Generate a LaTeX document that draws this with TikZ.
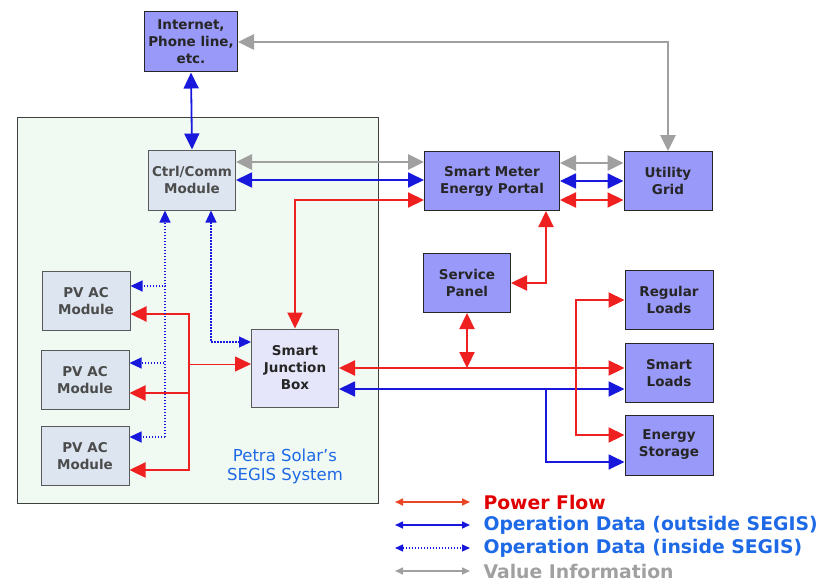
\documentclass[tikz,border=0pt]{standalone}
\usepackage{fontspec}
\setmainfont{DejaVu Sans}
\usetikzlibrary{arrows.meta,positioning,calc}
\definecolor{portalblue}{RGB}{153,153,250}
\definecolor{modfill}{RGB}{221,230,240}
\definecolor{jbfill}{RGB}{230,230,250}
\definecolor{segisfill}{RGB}{241,250,242}
\definecolor{pwrred}{RGB}{238,32,32}
\definecolor{datblue}{RGB}{24,24,220}
\definecolor{valgray}{RGB}{160,160,160}
\definecolor{txtblue}{RGB}{30,105,230}
\definecolor{txtred}{RGB}{225,0,0}
\definecolor{legred}{RGB}{232,70,36}
\tikzset{
  obox/.style={draw=black!85, fill=portalblue, line width=1pt, minimum width=88pt,
               minimum height=59pt, align=center, text=black!85,
               font=\fontsize{13.5}{17}\selectfont\bfseries},
  mbox/.style={draw=black!65, fill=modfill, line width=1pt, minimum width=88pt,
               minimum height=59pt, align=center, text=black!70,
               font=\fontsize{13.5}{17}\selectfont\bfseries},
  jbox/.style={draw=black!65, fill=jbfill, line width=1pt, minimum width=87pt,
               minimum height=78pt, align=center, text=black!85,
               font=\fontsize{13.5}{17}\selectfont\bfseries},
  pflow/.style={{Triangle[length=16pt,width=15pt]}-{Triangle[length=16pt,width=15pt]},
                line width=2.2pt, draw=pwrred},
  pflowr/.style={-{Triangle[length=16pt,width=15pt]}, line width=2.2pt, draw=pwrred},
  dflow/.style={{Triangle[length=16pt,width=15pt]}-{Triangle[length=16pt,width=15pt]},
                line width=1.8pt, draw=datblue},
  dflowr/.style={-{Triangle[length=16pt,width=15pt]}, line width=1.8pt, draw=datblue},
  iflow/.style={-{Triangle[length=12pt,width=11pt]}, line width=1.2pt, draw=datblue,
                dash pattern=on 1.5pt off 1.5pt},
  iflowb/.style={{Triangle[length=12pt,width=11pt]}-{Triangle[length=12pt,width=11pt]},
                line width=1.2pt, draw=datblue, dash pattern=on 1.5pt off 1.5pt},
  vflow/.style={{Triangle[length=16pt,width=15pt]}-{Triangle[length=16pt,width=15pt]},
                line width=2.8pt, draw=valgray},
  legtext/.style={anchor=west, font=\fontsize{18.8}{21}\selectfont\bfseries},
}
\begin{document}
\begin{tikzpicture}[x=1pt, y=-1pt]
  \useasboundingbox (0,0) rectangle (829,583);
  % SEGIS enclosure
  \node[draw=black!75, fill=segisfill, line width=1pt, minimum width=361pt,
        minimum height=385pt] (segis) at (197.5,310.5) {};
  \node[text=txtblue, align=center, font=\fontsize{16.5}{19}\selectfont] (segislbl) at (285,466)
        {Petra Solar's\\SEGIS System};
  % boxes
  \node[obox, minimum width=93pt, minimum height=60pt] (inet) at (191,42) {Internet,\\Phone line,\\etc.};
  \node[mbox, minimum width=87pt, minimum height=60pt] (ctrl) at (192,180) {Ctrl/Comm\\Module};
  \node[obox, minimum width=135pt] (sm) at (492,181) {Smart Meter\\Energy Portal};
  \node[obox] (ug) at (668,181) {Utility\\Grid};
  \node[obox, minimum width=87pt] (sp) at (467,283) {Service\\Panel};
  \node[obox] (rl) at (669,300) {Regular\\Loads};
  \node[obox] (sl) at (669,373) {Smart\\Loads};
  \node[obox, minimum height=60pt] (es) at (669,445) {Energy\\Storage};
  \node[mbox] (pv1) at (86,301) {PV AC\\Module};
  \node[mbox] (pv2) at (85,380) {PV AC\\Module};
  \node[mbox] (pv3) at (85,456) {PV AC\\Module};
  \node[jbox] (sjb) at (295,368) {Smart\\Junction\\Box};
  % taps
  \coordinate (redtap) at (576,368);
  \coordinate (bluetap) at (546,389);
  \coordinate (pvbus) at (189,368);
  \coordinate (pvdata) at (165,437);
  % value information
  \draw[vflow] (inet.east) -| (ug.north);
  \draw[vflow] ([yshift=18pt]ctrl.east) -- ([yshift=18pt]ctrl.east -| sm.west);
  \draw[vflow] ([yshift=18pt]sm.east) -- ([yshift=18pt]sm.east -| ug.west);
  % operation data outside
  \draw[dflow] (inet.south) -- (ctrl.north);
  \draw[dflow] (ctrl.east) -- (ctrl.east -| sm.west);
  \draw[dflow] (sm.east) -- (sm.east -| ug.west);
  \draw[dflow] ([yshift=-21pt]sjb.east) -- ([yshift=-21pt]sjb.east -| sl.west);
  \draw[dflowr] (bluetap) |- ([yshift=-17pt]es.west);
  % power flow
  \draw[pflow] ([yshift=-19pt]sm.east) -- ([yshift=-19pt]sm.east -| ug.west);
  \draw[pflow] ([yshift=-19pt]sm.west) -| (sjb.north);
  \draw[pflow] (sp.east) -| ([xshift=54pt]sm.south);
  \draw[pflow] (sp.south) -- (sp.south |- sjb.east);
  \draw[pflow] (sjb.east) -- (sjb.east -| sl.west);
  \draw[pwrred, line width=2.2pt] ([yshift=68pt]redtap) -- ([yshift=-67pt]redtap);
  \draw[pflowr] (redtap) |- (rl.west);
  \draw[pflowr] (redtap) |- ([yshift=10pt]es.west);
  \draw[pflowr, line width=0.8pt] ([yshift=4pt]pvbus) -- ([yshift=4pt]sjb.west);
  \draw[pwrred, line width=2.2pt] ([yshift=54pt]pvbus) -- ([yshift=-102pt]pvbus);
  \draw[pflowr] (pvbus) |- ([yshift=-13pt]pv1.east);
  \draw[pflowr] (pvbus) |- ([yshift=-13pt]pv2.east);
  \draw[pflowr] (pvbus) |- ([yshift=-14pt]pv3.east);
  % operation data inside
  \draw[iflow] (pvdata) -- ([xshift=-27pt]ctrl.south);
  \draw[iflow] (pvdata) |- ([yshift=15pt]pv1.east);
  \draw[iflow] (pvdata) |- ([yshift=17pt]pv2.east);
  \draw[iflow] (pvdata) -- ([yshift=19pt]pv3.east);
  \draw[iflowb] ([xshift=19pt]ctrl.south) |- ([yshift=26pt]sjb.west);
  % legend
  \coordinate (l1a) at (395,502); \coordinate (l1b) at (470,502);
  \coordinate (l2a) at (395,525); \coordinate (l2b) at (470,525);
  \coordinate (l3a) at (395,548); \coordinate (l3b) at (470,548);
  \coordinate (l4a) at (395,571); \coordinate (l4b) at (470,571);
  \draw[{Triangle[length=8pt,width=7pt]}-{Triangle[length=8pt,width=7pt]}, line width=1.6pt, draw=legred] (l1a) -- (l1b);
  \draw[{Triangle[length=8pt,width=7pt]}-{Triangle[length=8pt,width=7pt]}, line width=1.6pt, draw=datblue] (l2a) -- (l2b);
  \draw[{Triangle[length=8pt,width=7pt]}-{Triangle[length=8pt,width=7pt]}, line width=1.2pt, draw=datblue, dash pattern=on 1.5pt off 1.5pt] (l3a) -- (l3b);
  \draw[{Triangle[length=8pt,width=7pt]}-{Triangle[length=8pt,width=7pt]}, line width=1.6pt, draw=valgray] (l4a) -- (l4b);
  \node[legtext, text=txtred] (leg1) at (480,502) {Power Flow};
  \node[legtext, text=txtblue] (leg2) at (480,525) {Operation Data (outside SEGIS)};
  \node[legtext, text=txtblue] (leg3) at (480,548) {Operation Data (inside SEGIS)};
  \node[legtext, text=valgray] (leg4) at (480,571) {Value Information};
\end{tikzpicture}
\end{document}
